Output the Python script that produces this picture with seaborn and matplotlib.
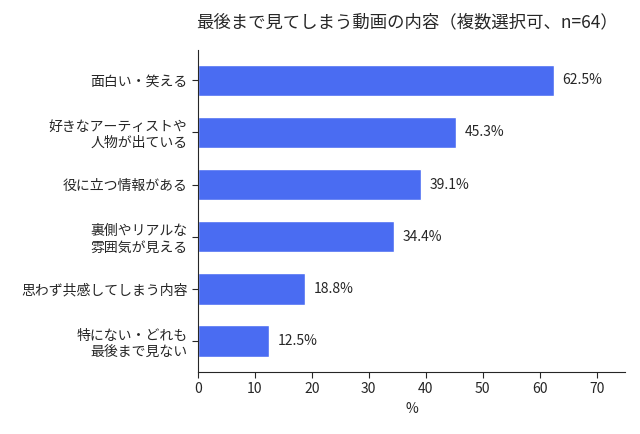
import pandas as pd
import matplotlib
matplotlib.use("Agg")
import matplotlib.pyplot as plt
import seaborn as sns

sns.set_style("white")
plt.rcParams['font.family'] = ['Noto Sans CJK JP', 'DejaVu Sans']

# data
categories = ["面白い・笑える", "好きなアーティストや\n人物が出ている", "役に立つ情報がある",
              "裏側やリアルな\n雰囲気が見える", "思わず共感してしまう内容", "特にない・どれも\n最後まで見ない"]
percent = [62.5, 45.3, 39.1, 34.4, 18.8, 12.5]

df = pd.DataFrame({"内容": categories, "割合": percent})

fig = plt.figure(figsize=(6.4, 4.34), dpi=100)
ax = fig.add_axes([0.309, 0.143, 0.668, 0.742])
sns.barplot(data=df, y="内容", x="割合", color="#4a6cf2", saturation=1, width=0.6, ax=ax)

for i, v in enumerate(df["割合"]):
    ax.text(v + 1.5, i, f"{v}%", va="center", ha="left", fontsize=10)

ax.set_xlim(0, 75)
ax.set_ylim(5.59, -0.58)
ax.set_xticks(range(0, 80, 10))
ax.set_xlabel("%", fontsize=10)
ax.set_ylabel("")
ax.set_title("最後まで見てしまう動画の内容（複数選択可、n=64）", fontsize=12.5, pad=16, x=0.49)
ax.tick_params(axis="both", labelsize=10, length=4, left=True, bottom=True)
sns.despine(ax=ax)

fig.savefig("out.png", dpi=100)
